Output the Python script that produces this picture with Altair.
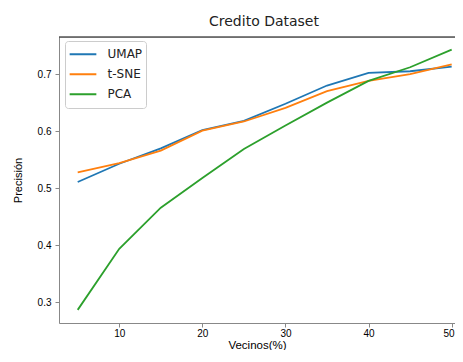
import altair as alt
import pandas as pd

vecinos = [5, 10, 15, 20, 25, 30, 35, 40, 45, 50]
umap = [0.511, 0.543, 0.570, 0.602, 0.618, 0.648, 0.680, 0.702, 0.705, 0.713]
tsne = [0.528, 0.544, 0.566, 0.601, 0.617, 0.641, 0.670, 0.688, 0.700, 0.717]
pca = [0.287, 0.394, 0.466, 0.518, 0.569, 0.610, 0.650, 0.688, 0.712, 0.743]
methods = ["UMAP", "t-SNE", "PCA"]
colors = ["#1f77b4", "#ff7f0e", "#2ca02c"]
x_ticks = [10, 20, 30, 40, 50]
y_ticks = [0.3, 0.4, 0.5, 0.6, 0.7]

rows = []
for name, vals in zip(methods, [umap, tsne, pca]):
    for v, p in zip(vecinos, vals):
        rows.append({"Vecinos": v, "Precision": p, "Metodo": name})
df = pd.DataFrame(rows)

FONT = "DejaVu Sans"
W, H = 396, 286

lines = alt.Chart(df).mark_line(strokeWidth=1.8).encode(
    x=alt.X("Vecinos:Q",
            scale=alt.Scale(domain=[2.75, 50.40], nice=False, zero=False),
            axis=alt.Axis(values=x_ticks, title="Vecinos(%)", grid=False,
                          tickSize=4, labelPadding=1.5,
                          labelFlush=5, labelFlushOffset=2.5,
                          titleBaseline="alphabetic", titleY=25.5,
                          titleFontSize=11.5,
                          titleFontWeight="normal", format="d")),
    y=alt.Y("Precision:Q",
            scale=alt.Scale(domain=[0.264, 0.765], nice=False, zero=False),
            axis=alt.Axis(values=y_ticks, title="Precisión", grid=False,
                          tickSize=4, labelPadding=4,
                          titleBaseline="middle", titleX=-41,
                          titleFontWeight="normal", format=".1f")),
    color=alt.Color("Metodo:N",
                    scale=alt.Scale(domain=methods, range=colors),
                    legend=alt.Legend(title=None, orient="none",
                                      legendX=6, legendY=4,
                                      symbolType="stroke", symbolSize=713,
                                      symbolStrokeWidth=2,
                                      clipHeight=19.5,
                                      labelFontSize=12, labelFont=FONT,
                                      labelColor="#222",
                                      labelOffset=10, rowPadding=0,
                                      padding=3.5,
                                      strokeColor="#cccccc",
                                      fillColor="white",
                                      cornerRadius=3)),
)

top_spine = alt.Chart(pd.DataFrame({"s": [0]})).mark_rule(
    color="#000", strokeWidth=1
).encode(x=alt.value(0), x2=alt.value(W), y=alt.value(0))

chart = alt.layer(top_spine, lines).properties(
    width=W,
    height=H,
    title=alt.TitleParams("Credito Dataset", fontSize=14, font=FONT,
                          fontWeight="normal", color="#222",
                          anchor="middle", dx=7, offset=8),
    autosize=alt.AutoSizeParams(type="none"),
    padding={"left": 51, "top": 29, "right": 0, "bottom": 27},
).configure_axis(
    labelFont=FONT, titleFont=FONT, labelFontSize=12, titleFontSize=12,
    labelColor="#222", titleColor="#222", titleFontWeight="normal",
    domainColor="#000", tickColor="#000", domainWidth=1, tickWidth=1,
).configure_view(
    stroke=None,
).configure(background="white")

chart.save("out.html", embed_options={"renderer": "svg", "actions": False})
